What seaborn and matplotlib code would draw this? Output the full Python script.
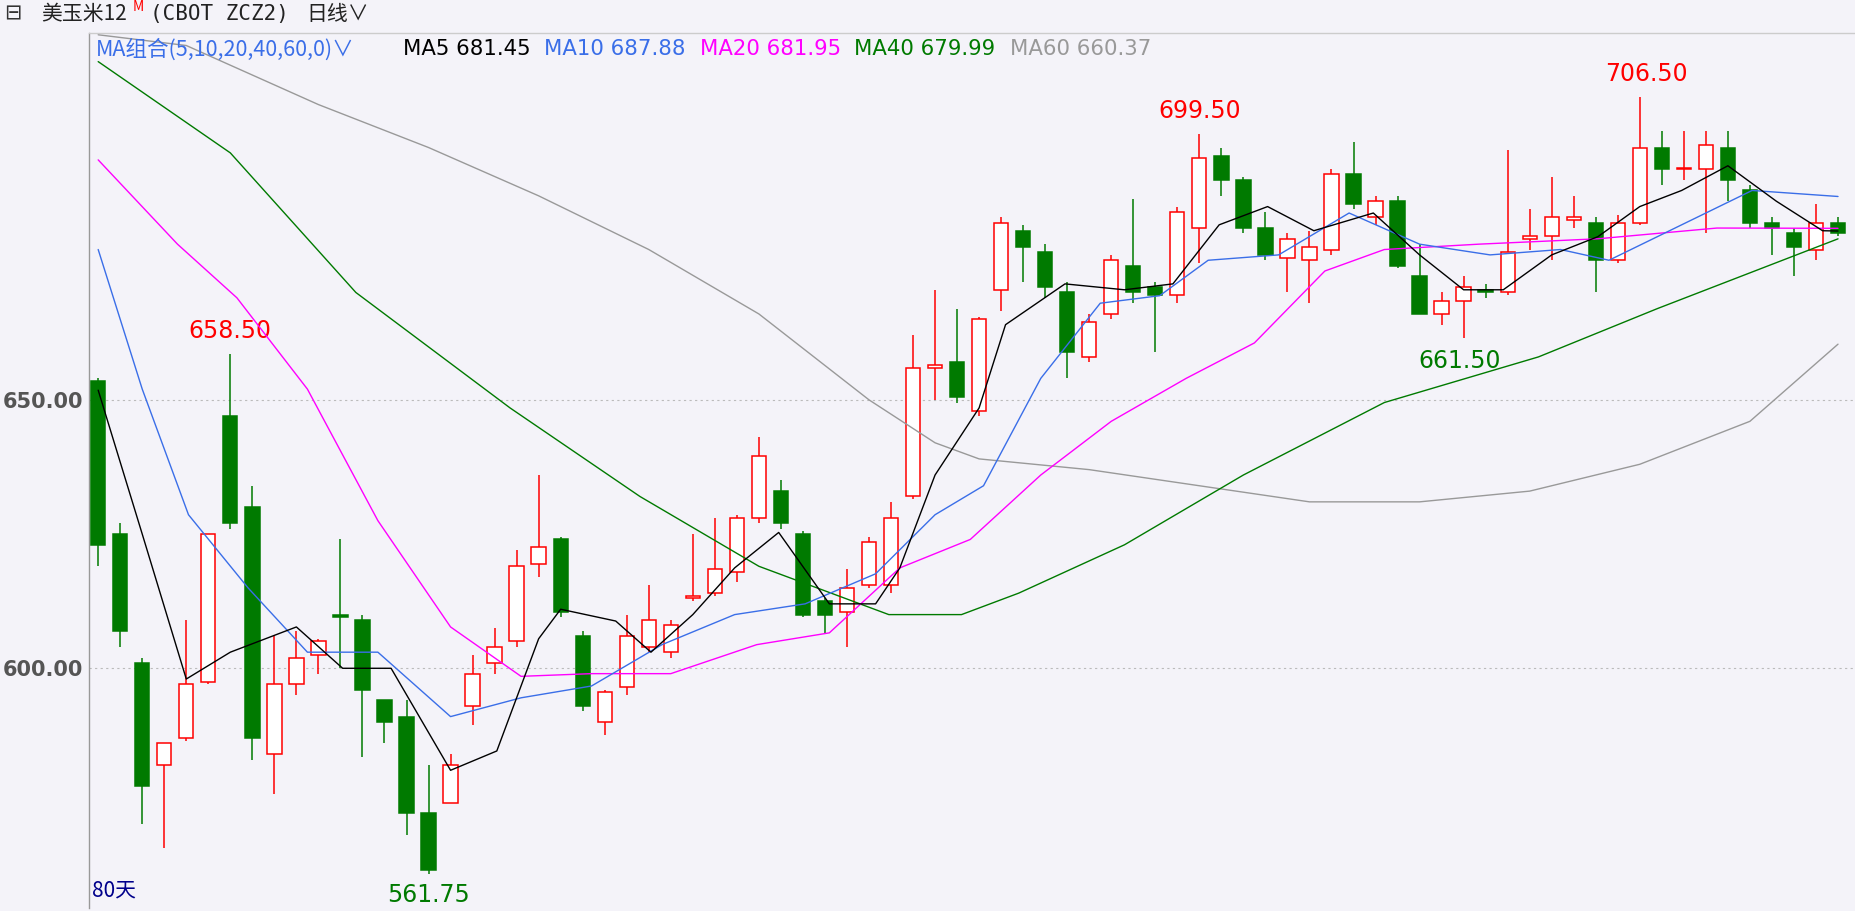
import matplotlib
matplotlib.use("Agg")
import matplotlib.pyplot as plt
import seaborn as sns
import numpy as np
import pandas as pd

opens = [653.5,625,601,582,587,597.5,647,630,584,597,602.5,610,609,594,591,573,575,593,601,605,619.5,624,606,590,596.5,604,603,613,614,618,628,633,625,612.5,610.5,615.5,615.5,632,656,657,648,670.5,681.5,677.5,670,658,666,675,671,669.5,682,695.5,691,682,676.5,676,678,692,684,687,673,666,668.5,670.5,670,680,680.5,683.5,683,676,683,697,693,693,697,689,683,681,678,683]
closes = [623,607,578,586,597,625,627,587,597,602,605,609.5,596,590,573,562.5,582,599,604,619,622.5,610.5,593,595.5,606,609,608,613.5,618.5,628,639.5,627,610,610,615,623.5,628,656,656.5,650.5,665,683,678.5,671,659,664.5,676,670,669.5,685,695,691,682,677,680,678.5,692,686.5,687,675,666,668.5,671,670,677.5,680.5,684,684,676,683,697,693,693,697.5,691,683,682,678.5,683,681]
highs = [654,627,602,586,609,625,658.5,634,606,607,605.5,624,610,594,594,582,584,602.5,607.5,622,636,624.5,607,596,610,615.5,609,625,628,628.5,643,635,625.5,613,618.5,624.5,631,662,670.5,667,665.5,684,682.5,679,672,666,677,687.5,672,686,699.5,697,691.5,685,681,681.5,693,698,688,688,679,670,673,671.5,696.5,685.5,691.5,688,684,684.5,706.5,700,700,700,700,690,684,682,686.5,684]
lows = [619,604,571,566.5,586.5,597,626,583,576.5,595,599,600,583.5,586,569,561.75,578,589.5,599,604,617,609.5,592,587.5,595,603,602,612.5,613.5,616,627,626,609.5,606.5,604,615,614,631.5,650,649.5,647,666.5,672,669,654,657,665,668,659,668,675.5,688,681,676,670,668,677,685.5,682.5,674.5,672,664,661.5,669,669.5,678,676,682,670,675.5,682.5,690,691,681,687,682,677,673,676,680.5]

ma_idx = {
 "MA60": ([0,4,10,15,20,25,30,35,38,40,45,50,55,60,65,70,75,79],
          [718,716,705,697,688,678,666,650,642,639,637,634,631,631,633,638,646,660.37]),
 "MA40": ([0,6,11.7,18.7,24.6,30,35.9,39.2,41.8,46.6,52,58.4,65.4,70.8,79],
          [713,696,670,648.5,632,619,610,610,614,623,636,649.5,658,667,679.99]),
 "MA20": ([0,3.6,6.3,9.5,12.7,16,19.2,22.4,26,29.9,33.2,36.4,39.6,42.8,46,49.4,52.5,55.7,58.4,62.7,68.1,73.5,79],
          [694.7,679,669,652,627.5,607.7,598.5,599,599,604.4,606.6,618.7,624,636,646,654,660.6,674,678,679,680,682,681.95]),
 "MA10": ([0,2,4.1,6.8,9.5,12.7,16,19.2,22.4,25.6,28.9,32.1,35.3,38,40.2,42.8,45.5,48.2,50.4,53.6,56.8,60,63.2,66.4,68.6,71.9,75.1,79],
          [678,652,628.6,615,603,603,591,594.5,596.7,604.4,610,612,617.6,628.6,634,654,668,669.4,676,677,684.8,679,677,678,676,682.6,689,687.88]),
 "MA5": ([0,2,4,6,9,11.1,13.3,16,18.1,20,21,23.5,25.1,27,28.9,30.9,33.2,35.3,36.4,38,40,41.2,43.9,46.6,48.8,50.9,53.1,55.2,57.9,60,62,63.8,66,68.1,70,71.9,74,76.2,78.3,79],
         [651.8,625,598,603,607.7,600,600,581,584.6,605.5,611,608.8,603,610,618.7,625.3,612,612,618.7,636,648.5,664,671.6,670.5,671.6,682.6,686,681.5,684.8,677,670.5,670.5,677,680.4,686,689,693.6,687,681.5,681.45]),
}
ma_colors = {"MA5":"#000000","MA10":"#3a6ee8","MA20":"#ff00ff","MA40":"#007a00","MA60":"#999999"}
ma_vals = {"MA5":"681.45","MA10":"687.88","MA20":"681.95","MA40":"679.99","MA60":"660.37"}
yticks = [600, 650]

sns.set_theme(style="white")
plt.rcParams['font.family'] = ['Noto Sans CJK SC', 'DejaVu Sans']
bg = "#f4f3f9"
fig = plt.figure(figsize=(18.56, 9.11), dpi=100, facecolor=bg)
ax = fig.add_axes([0.0478, 0.003, 0.952, 0.9606], facecolor=bg)

red, green = "#ff0000", "#007a00"
w = 0.65
x = np.arange(len(opens))
for i in x:
    o, c, h, l = opens[i], closes[i], highs[i], lows[i]
    up = c >= o
    col = red if up else green
    top, bot = max(o, c), min(o, c)
    ax.vlines(i, top, h, color=col, lw=1.1, zorder=2)
    ax.vlines(i, l, bot, color=col, lw=1.1, zorder=2)
    if up:
        ax.bar(i, max(top - bot, 0.2), bottom=bot, width=w, facecolor="white", edgecolor=red, lw=1.1, zorder=3)
    else:
        ax.bar(i, max(top - bot, 0.3), bottom=bot, width=w, facecolor=green, edgecolor=green, lw=1.1, zorder=3)

for name in ["MA60", "MA40", "MA20", "MA10", "MA5"]:
    xi, yi = ma_idx[name]
    df = pd.DataFrame({"x": xi, "y": yi})
    sns.lineplot(data=df, x="x", y="y", ax=ax, color=ma_colors[name], lw=1.0, zorder=4, estimator=None)

ax.set_xlim(-0.43, 79.8)
ax.set_ylim(555.3, 718.3)
for yv in yticks:
    ax.axhline(yv, color="#bbbbbb", lw=0.8, ls=(0, (2, 3)), zorder=0)
ax.set_yticks(yticks)
ax.set_yticklabels([f"{v:.2f}" for v in yticks], fontsize=15, color="#555555", fontweight="bold", family="DejaVu Sans")
ax.set_xticks([])
ax.set_xlabel(""); ax.set_ylabel("")
ax.tick_params(axis="y", length=0, pad=4)
for s in ["top", "right", "bottom"]:
    ax.spines[s].set_visible(False)
ax.spines["left"].set_color("#999999")
ax.spines["left"].set_linewidth(1)
fig.add_artist(plt.Line2D([0.0478, 1], [0.9636, 0.9636], color="#cccccc", lw=1))

lbl = dict(fontsize=17, ha="center", family="DejaVu Sans")
ax.text(6, 660.5, "658.50", color=red, va="bottom", **lbl)
ax.text(15, 560, "561.75", color=green, va="top", **lbl)
ax.text(50, 701.5, "699.50", color=red, va="bottom", **lbl)
ax.text(61.8, 659.5, "661.50", color=green, va="top", **lbl)
ax.text(70.3, 708.5, "706.50", color=red, va="bottom", **lbl)
ax.text(-0.3, 556.5, "80天", color="#00008b", fontsize=15, va="bottom", ha="left")

# title bar
fig.text(0.002, 0.985, "⊟", fontsize=15, color="#333333", va="center")
fig.text(0.022, 0.985, "美玉米12", fontsize=15, color="#222222", va="center")
fig.text(0.0715, 0.992, "M", fontsize=10, color=red, va="center")
fig.text(0.081, 0.985, "(CBOT ZCZ2)", fontsize=15, color="#222222", va="center", family="DejaVu Sans Mono")
fig.text(0.165, 0.985, "日线∨", fontsize=15, color="#222222", va="center")

# MA legend
ly = 0.946
fig.text(0.0515, ly, "MA组合(5,10,20,40,60,0)∨", fontsize=15.5, color="#3a6ee8", va="center")
xs = [0.217, 0.293, 0.377, 0.46, 0.544]
for xx, name in zip(xs, ["MA5", "MA10", "MA20", "MA40", "MA60"]):
    fig.text(xx, ly, f"{name} {ma_vals[name]}", fontsize=15.3, color=ma_colors[name], va="center", family="DejaVu Sans")

fig.savefig("out.png", dpi=100, facecolor=bg)
